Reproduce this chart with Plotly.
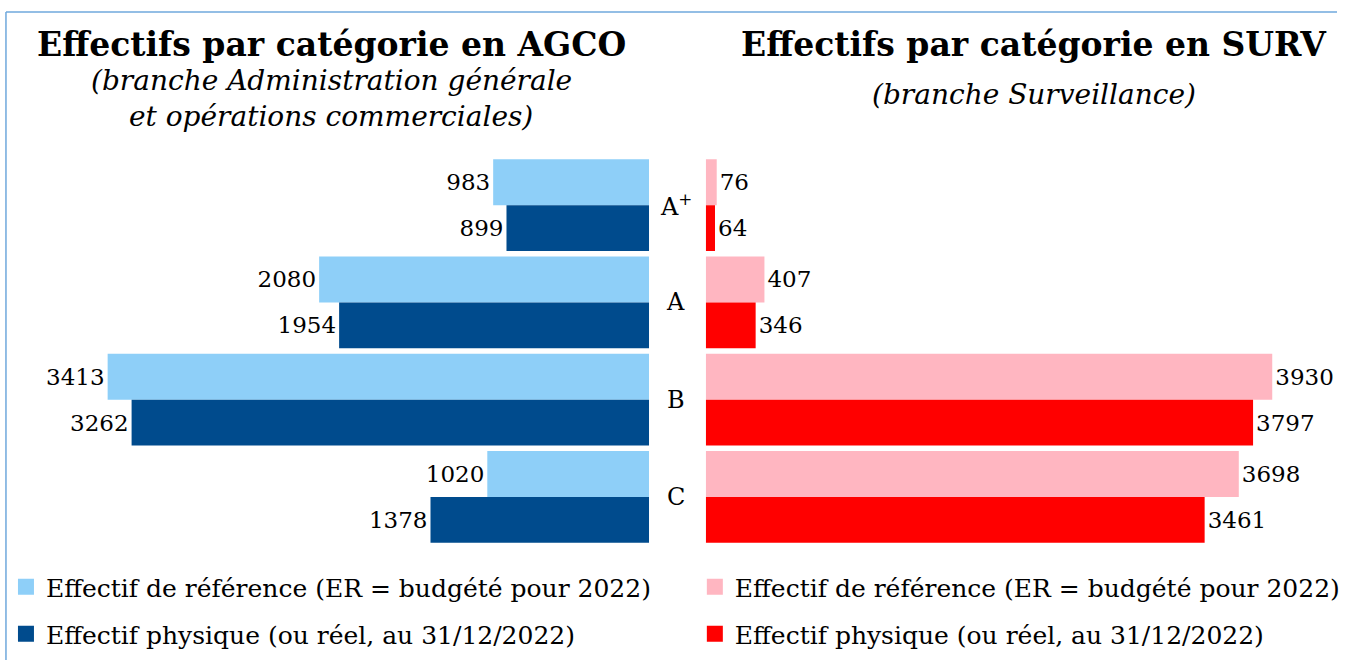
import plotly.graph_objects as go

categories = ["A<sup>+</sup>", "A", "B", "C"]
agco_ref = [983, 2080, 3413, 1020]
agco_phys = [899, 1954, 3262, 1378]
surv_ref = [76, 407, 3930, 3698]
surv_phys = [64, 346, 3797, 3461]

ref_label = "Effectif de référence (ER = budgété pour 2022)"
phys_label = "Effectif physique (ou réel, au 31/12/2022)"

C_LB = "#8ECFF8"
C_DB = "#004B8D"
C_PK = "#FFB6C1"
C_RD = "#FF0000"

W, H = 1345, 660
FONT = "DejaVu Serif"


def fx(px):
    return min(px / W, 1.0)


def fy(py):
    return max(1 - py / H, 0.0)


fig = go.Figure()


def bar(vals, color, xaxis):
    return go.Bar(
        y=categories, x=vals, orientation="h", xaxis=xaxis, yaxis="y",
        marker=dict(color=color, line=dict(width=0)),
        text=[str(v) for v in vals], textposition="outside",
        textfont=dict(family=FONT, size=23, color="black"),
        cliponaxis=False, showlegend=False, hoverinfo="skip",
    )


def legend_entry(color, name, legend, xaxis):
    return go.Scatter(x=[None], y=[None], mode="markers", xaxis=xaxis, yaxis="y",
                      marker=dict(symbol="square", size=16, color=color),
                      name=name, legend=legend, showlegend=True, hoverinfo="skip")


fig.add_trace(bar(agco_ref, C_LB, "x"))
fig.add_trace(bar(agco_phys, C_DB, "x"))
fig.add_trace(bar(surv_ref, C_PK, "x2"))
fig.add_trace(bar(surv_phys, C_RD, "x2"))
fig.add_trace(legend_entry(C_LB, ref_label, "legend", "x"))
fig.add_trace(legend_entry(C_DB, phys_label, "legend2", "x"))
fig.add_trace(legend_entry(C_PK, ref_label, "legend3", "x2"))
fig.add_trace(legend_entry(C_RD, phys_label, "legend4", "x2"))

fig.update_layout(
    width=W, height=H, margin=dict(l=0, r=0, t=0, b=0),
    paper_bgcolor="white", plot_bgcolor="white",
    barmode="group", bargap=0.055, bargroupgap=0,
    font=dict(family=FONT, color="black"),
    xaxis=dict(domain=[fx(14), fx(653)], range=[(653 - 14) / 0.1596, 0], visible=False),
    xaxis2=dict(domain=[fx(710), fx(1335)], range=[0, (1335 - 710) / 0.145], visible=False, anchor="y"),
    yaxis=dict(domain=[fy(545.5), fy(156.5)], autorange="reversed", visible=False, type="category"),
    showlegend=True,
)


def leg(ypx, xpx):
    return dict(x=fx(xpx), y=fy(ypx), xanchor="left", yanchor="middle",
                font=dict(family=FONT, size=25, color="black"),
                bgcolor="rgba(0,0,0,0)", itemclick=False, itemdoubleclick=False)


fig.update_layout(
    legend=leg(587, 6), legend2=leg(634, 6),
    legend3=leg(587, 699), legend4=leg(634, 699),
)

ann = []
ann.append(dict(text="<b>Effectifs par catégorie en AGCO</b>", x=fx(333), y=fy(45), font=dict(size=33)))
ann.append(dict(text="<i>(branche Administration générale</i>", x=fx(333), y=fy(81), font=dict(size=28)))
ann.append(dict(text="<i>et opérations commerciales)</i>", x=fx(333), y=fy(117), font=dict(size=28)))
ann.append(dict(text="<b>Effectifs par catégorie en SURV</b>", x=fx(1040), y=fy(45), font=dict(size=33)))
ann.append(dict(text="<i>(branche Surveillance)</i>", x=fx(1040), y=fy(95), font=dict(size=28)))
for a in ann:
    a.update(xref="paper", yref="paper", showarrow=False, xanchor="center", yanchor="middle")
for c in categories:
    ann.append(dict(text=c, x=fx(680), y=c, xref="paper", yref="y", showarrow=False,
                    xanchor="center", yanchor="middle", font=dict(size=24)))
fig.update_layout(annotations=ann)

fig.add_shape(type="line", xref="paper", yref="paper", x0=fx(6), x1=1, y0=fy(12), y1=fy(12),
              line=dict(color="#6FA8DC", width=1.5))
fig.add_shape(type="line", xref="paper", yref="paper", x0=fx(6), x1=fx(6), y0=0, y1=fy(12),
              line=dict(color="#6FA8DC", width=1.5))

fig.write_html("out.html", config={"displayModeBar": False},
               post_script="document.body.style.margin='0';")
